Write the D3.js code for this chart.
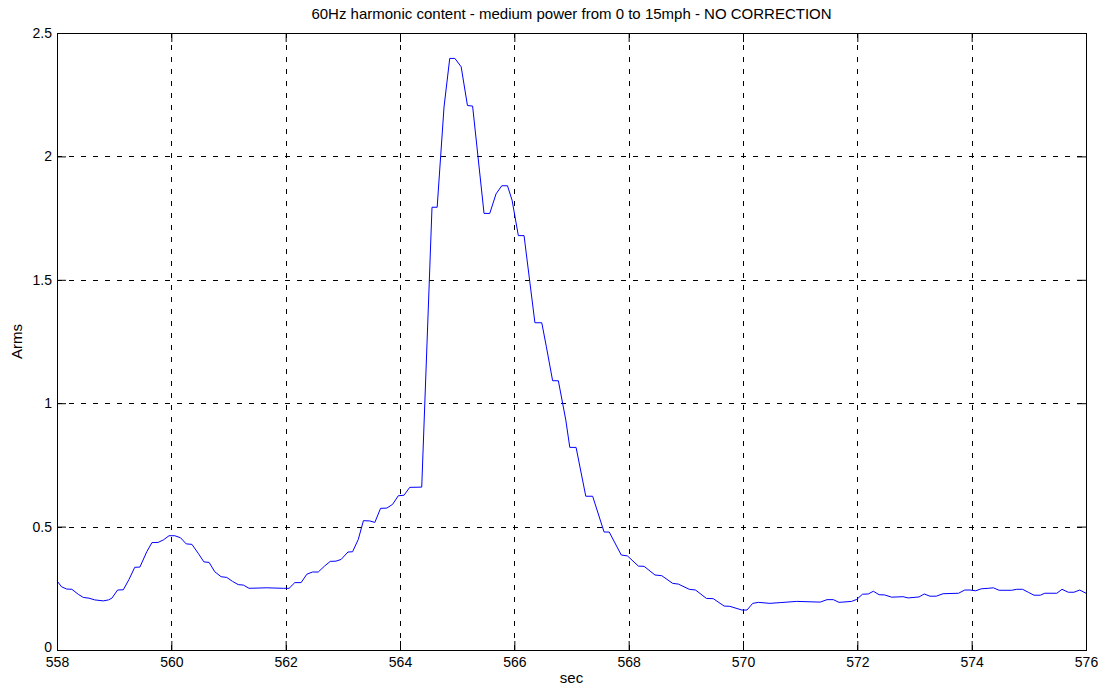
<!DOCTYPE html>
<html>
<head>
<meta charset="utf-8">
<script src="https://cdn.jsdelivr.net/npm/d3@7"></script>
<style>
  body { margin: 0; background: #fff; }
  text { font-family: "Liberation Sans", Arial, sans-serif; font-size: 15px; fill: #000; }
</style>
</head>
<body>
<div id="chart"></div>
<script>
// time (sec) and Arms values
const times = [
  558.00, 558.08, 558.17, 558.26, 558.37, 558.46, 558.56, 558.66, 558.81, 558.90,
  558.96, 559.06, 559.16, 559.26, 559.36, 559.45, 559.57, 559.66, 559.77, 559.86,
  559.96, 560.06, 560.16, 560.26, 560.36, 560.47, 560.57, 560.66, 560.76, 560.87,
  560.97, 561.07, 561.17, 561.26, 561.36, 561.67, 561.96, 562.06, 562.16, 562.27,
  562.37, 562.47, 562.57, 562.68, 562.78, 562.88, 562.97, 563.09, 563.17, 563.27,
  563.36, 563.47, 563.56, 563.66, 563.77, 563.87, 563.97, 564.07, 564.17, 564.38,
  564.56, 564.65, 564.77, 564.87, 564.96, 565.07, 565.18, 565.27, 565.47, 565.57,
  565.68, 565.78, 565.88, 565.96, 566.07, 566.17, 566.36, 566.48, 566.56, 566.67,
  566.77, 566.90, 566.97, 567.08, 567.25, 567.37, 567.57, 567.66, 567.87, 567.98,
  568.17, 568.27, 568.46, 568.58, 568.77, 568.87, 569.06, 569.17, 569.36, 569.48,
  569.67, 569.77, 569.98, 570.07, 570.17, 570.27, 570.47, 570.65, 570.94, 571.35,
  571.47, 571.58, 571.68, 571.90, 571.99, 572.09, 572.19, 572.28, 572.38, 572.48,
  572.60, 572.80, 572.89, 573.08, 573.17, 573.27, 573.38, 573.50, 573.77, 573.88,
  573.97, 574.07, 574.17, 574.29, 574.38, 574.48, 574.70, 574.79, 574.89, 574.99,
  575.09, 575.20, 575.28, 575.49, 575.58, 575.69, 575.79, 575.89, 576.00
];
const arms = [
  0.280, 0.256, 0.247, 0.246, 0.226, 0.213, 0.210, 0.203, 0.199, 0.203,
  0.210, 0.243, 0.244, 0.286, 0.335, 0.336, 0.398, 0.435, 0.436, 0.446,
  0.463, 0.463, 0.455, 0.430, 0.428, 0.392, 0.357, 0.355, 0.317, 0.297,
  0.294, 0.278, 0.265, 0.263, 0.250, 0.252, 0.250, 0.250, 0.273, 0.273,
  0.307, 0.316, 0.316, 0.340, 0.359, 0.360, 0.367, 0.397, 0.398, 0.448,
  0.524, 0.523, 0.517, 0.574, 0.575, 0.590, 0.625, 0.627, 0.659, 0.660,
  1.794, 1.794, 2.200, 2.397, 2.397, 2.363, 2.206, 2.204, 1.769, 1.769,
  1.848, 1.881, 1.881, 1.823, 1.679, 1.679, 1.326, 1.326, 1.229, 1.091,
  1.091, 0.932, 0.821, 0.821, 0.623, 0.623, 0.478, 0.478, 0.385, 0.381,
  0.340, 0.339, 0.304, 0.301, 0.270, 0.267, 0.246, 0.243, 0.209, 0.208,
  0.178, 0.177, 0.162, 0.162, 0.189, 0.193, 0.189, 0.192, 0.197, 0.194,
  0.204, 0.204, 0.193, 0.197, 0.205, 0.226, 0.227, 0.238, 0.224, 0.223,
  0.214, 0.216, 0.211, 0.215, 0.227, 0.218, 0.218, 0.228, 0.230, 0.243,
  0.243, 0.240, 0.248, 0.250, 0.252, 0.242, 0.242, 0.246, 0.246, 0.234,
  0.222, 0.222, 0.230, 0.230, 0.246, 0.234, 0.234, 0.243, 0.230
];
const xTicks = [558, 560, 562, 564, 566, 568, 570, 572, 574, 576];
const yTicks = [0, 0.5, 1, 1.5, 2, 2.5];
const data = times.map((t, i) => ({ t: t, v: arms[i] }));

const W = 1101, H = 685;
const margin = { top: 33, right: 15, bottom: 35, left: 57 },
  width = W - margin.left - margin.right,
  height = H - margin.top - margin.bottom;

const root = d3.select("#chart").append("svg")
  .attr("width", W)
  .attr("height", H);

const svg = root.append("g")
  .attr("transform", `translate(${margin.left},${margin.top})`);

const x = d3.scaleLinear().domain([558, 576]).range([0, width]);
const y = d3.scaleLinear().domain([0, 2.5]).range([height, 0]);

// dashed grid
svg.append("g")
  .selectAll("line")
  .data(xTicks)
  .enter()
  .append("line")
  .attr("x1", (d) => Math.round(x(d)) + 0.5)
  .attr("x2", (d) => Math.round(x(d)) + 0.5)
  .attr("y1", 0)
  .attr("y2", height)
  .attr("stroke", "#000")
  .attr("stroke-dasharray", "5,7");

svg.append("g")
  .selectAll("line")
  .data(yTicks)
  .enter()
  .append("line")
  .attr("x1", 0)
  .attr("x2", width)
  .attr("y1", (d) => Math.round(y(d)) + 0.5)
  .attr("y2", (d) => Math.round(y(d)) + 0.5)
  .attr("stroke", "#000")
  .attr("stroke-dasharray", "5,7");

// axes with inward ticks
const tickLen = 9;
svg.append("g")
  .attr("transform", `translate(0,${height})`)
  .call(d3.axisBottom(x).tickValues(xTicks).tickSizeInner(-tickLen).tickSizeOuter(0).tickPadding(7))
  .call((g) => g.select(".domain").remove());
svg.append("g")
  .call(d3.axisTop(x).tickValues(xTicks).tickSizeInner(-tickLen).tickSizeOuter(0).tickFormat(""))
  .call((g) => g.select(".domain").remove());
const yAxis = svg.append("g")
  .call(d3.axisLeft(y).tickValues(yTicks).tickSizeInner(-tickLen).tickSizeOuter(0).tickPadding(5).tickFormat(d3.format("")))
  .call((g) => g.select(".domain").remove());
svg.append("g")
  .attr("transform", `translate(${width},0)`)
  .call(d3.axisRight(y).tickValues(yTicks).tickSizeInner(-tickLen).tickSizeOuter(0).tickFormat(""))
  .call((g) => g.select(".domain").remove());

svg.selectAll(".tick text")
  .style("font-family", '"Liberation Sans", Arial, sans-serif')
  .style("font-size", "14px")
  .attr("fill", "#000");

// lift the "0" label a little so it clears "558"
yAxis.selectAll(".tick text")
  .filter((d) => d === 0)
  .attr("dy", "0.1em");

// the line
const line = d3.line()
  .x((d) => x(d.t))
  .y((d) => y(d.v));

svg.append("path")
  .datum(data)
  .attr("fill", "none")
  .attr("stroke", "#0000ff")
  .attr("stroke-width", 1)
  .attr("d", line);

// box
svg.append("rect")
  .attr("x", 0.5)
  .attr("y", 0.5)
  .attr("width", width)
  .attr("height", height)
  .attr("fill", "none")
  .attr("stroke", "#000")
  .attr("stroke-width", 1);

// title and labels
root.append("text")
  .attr("x", margin.left + width / 2)
  .attr("y", 19)
  .attr("text-anchor", "middle")
  .text("60Hz harmonic content - medium power from 0 to 15mph - NO CORRECTION");

root.append("text")
  .attr("x", margin.left + width / 2)
  .attr("y", 683)
  .attr("text-anchor", "middle")
  .text("sec");

root.append("text")
  .attr("transform", `translate(22,${margin.top + height / 2}) rotate(-90)`)
  .attr("text-anchor", "middle")
  .text("Arms");
</script>
</body>
</html>
